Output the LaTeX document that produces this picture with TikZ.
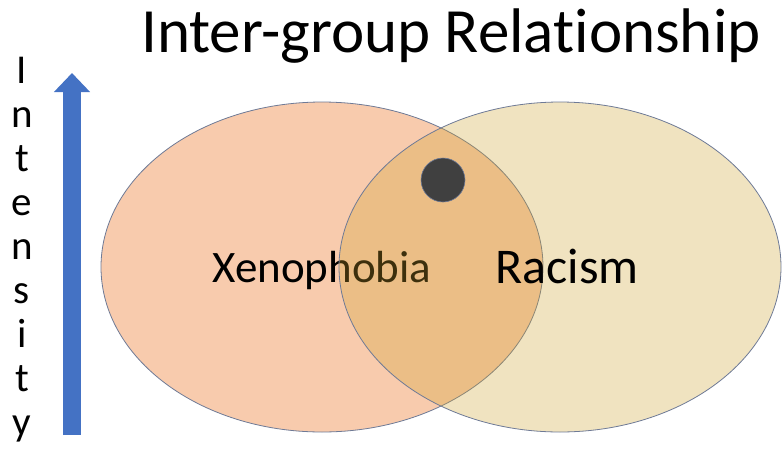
\documentclass[tikz,border=0pt]{standalone}
\usepackage{fontspec}
\setmainfont{Carlito}[Ligatures=NoCommon]
\usetikzlibrary{arrows.meta,shapes.geometric}

\definecolor{xenofill}{RGB}{248,203,173}
\definecolor{racefill}{RGB}{205,162,45}
\definecolor{setline}{RGB}{110,122,150}
\definecolor{arrowblue}{RGB}{68,114,196}
\definecolor{dotgrey}{RGB}{64,64,64}

\begin{document}
\begin{tikzpicture}[x=1pt,y=-1pt,>=Latex]
  \tikzstyle{setshape}=[ellipse,draw=setline,line width=0.8pt,minimum width=442pt,minimum height=330pt,inner sep=0pt]
  \tikzstyle{setlabel}=[inner sep=0pt,anchor=base]
  \tikzstyle{letter}=[inner sep=0pt,anchor=base,font=\fontsize{41}{44}\selectfont]
  \useasboundingbox (0,0) rectangle (782,448);
  \clip (0,0) rectangle (782,448);
  % title
  \node[inner sep=0pt,anchor=base west,font=\fontsize{63}{70}\selectfont] (title) at (141,52) {Inter-group Relationship};
  % vertical axis
  \foreach \ch [count=\i] in {I,n,t,e,n,s,i,t,y}
    \node[letter] (l\i) at (22,{83+44*(\i-1)}) {\ch};
  \coordinate (axisbot) at (72,435);
  \coordinate (axistop) at (72,73);
  \draw[arrowblue,line width=18pt,-{Triangle[width=35pt,length=19pt]}] (axisbot) -- (axistop);
  % sets
  \node[setshape,fill=xenofill] (xeno) at (322,267) {};
  \node[setlabel,font=\fontsize{45}{50}\selectfont] (xenolabel) at (322,282) {Xenophobia};
  \node[setshape,fill=racefill,fill opacity=0.3] (race) at (560,267) {};
  \node[setlabel,font=\fontsize{50}{56}\selectfont] (racelabel) at (567,283) {Racism};
  \node[circle,draw=setline,line width=0.6pt,fill=dotgrey,minimum size=44pt,inner sep=0pt] (dot) at (443,180) {};
\end{tikzpicture}
\end{document}
